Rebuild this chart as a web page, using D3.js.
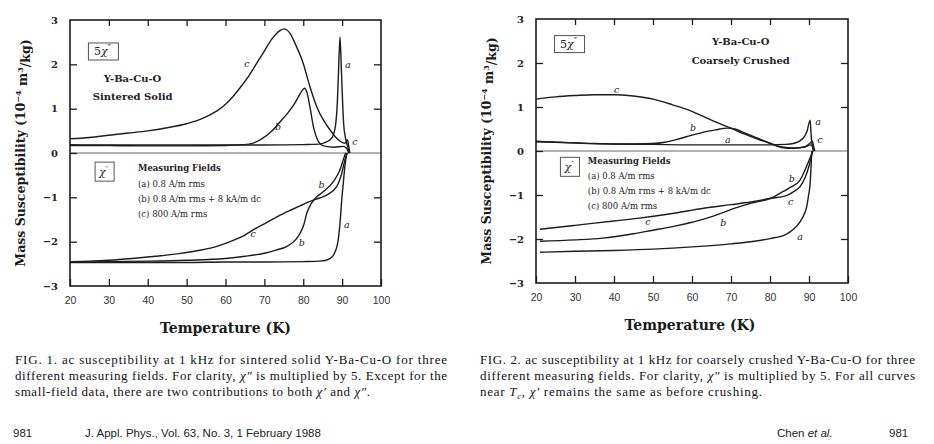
<!DOCTYPE html>
<html>
<head>
<meta charset="utf-8">
<script src="https://cdn.jsdelivr.net/npm/d3@7"></script>
<style>
body { margin: 0; background: #fff; }
</style>
</head>
<body>
<script>
const tempTicks = [20, 30, 40, 50, 60, 70, 80, 90, 100]
const suscTicks = [-3, -2, -1, 0, 1, 2, 3]

// FIG. 1, sintered solid. 5 chi'' curves
const sinteredImagA = [[20,0.19],[30,0.18],[40,0.18],[50,0.18],[60,0.18],[70,0.18],[80,0.19],[84,0.2],[86,0.25],[87.5,0.36],[88.3,0.62],[88.8,1.2],[89.1,1.9],[89.45,2.62],[89.8,1.9],[90.1,1.2],[90.4,0.65],[90.9,0.32],[91.4,0.15],[91.9,0.0]]
const sinteredImagB = [[20,0.17],[30,0.17],[40,0.16],[50,0.16],[60,0.17],[66,0.2],[69,0.3],[72,0.5],[74,0.7],[76,0.9],[78,1.15],[79.5,1.38],[80.3,1.46],[81,1.35],[81.7,1.05],[82.6,0.6],[83.9,0.26],[85.2,0.16],[88,0.13],[90.3,0.15],[91.2,0.1],[91.7,0.0]]
const sinteredImagC = [[20,0.32],[25,0.35],[30,0.4],[35,0.45],[40,0.5],[45,0.57],[50,0.66],[53,0.74],[56,0.86],[58,0.96],[60,1.1],[62,1.28],[64,1.5],[66,1.74],[68,2.02],[70,2.3],[72,2.58],[74,2.76],[75,2.8],[76.6,2.7],[78,2.45],[80,2.02],[81.7,1.5],[83.5,1.04],[85.2,0.74],[86.9,0.52],[88.6,0.33],[90.7,0.22],[91.4,0.3],[91.7,0.15],[92,0.0]]
// chi'
const sinteredRealA = [[20,-2.47],[30,-2.47],[40,-2.47],[50,-2.47],[60,-2.46],[70,-2.46],[80,-2.45],[84.3,-2.44],[86.9,-2.38],[88.2,-2.23],[89,-1.96],[89.45,-1.59],[89.9,-1.06],[90.3,-0.68],[90.7,-0.31],[91.2,0.0]]
const sinteredRealB = [[20,-2.46],[30,-2.45],[40,-2.44],[50,-2.42],[60,-2.38],[65,-2.33],[70,-2.26],[73,-2.19],[75.7,-2.11],[78,-1.96],[79.2,-1.81],[80.2,-1.6],[80.9,-1.36],[82,-1.15],[83,-1.03],[85.2,-0.87],[87.7,-0.65],[89.45,-0.38],[90.3,-0.15],[90.9,0.0]]
const sinteredRealC = [[20,-2.45],[25,-2.44],[30,-2.42],[36,-2.38],[42,-2.33],[48,-2.27],[53,-2.2],[58,-2.1],[62,-1.97],[65,-1.85],[67,-1.74],[70,-1.6],[73,-1.45],[75,-1.36],[77,-1.28],[79,-1.2],[81,-1.12],[83,-1.05],[86,-0.95],[88.6,-0.76],[89.9,-0.46],[90.7,-0.16],[91.3,0.0]]

// FIG. 2, coarsely crushed. 5 chi'' curves
const crushedImagA = [[20,0.22],[25,0.2],[30,0.18],[40,0.16],[50,0.15],[60,0.14],[70,0.14],[80,0.14],[84,0.15],[86,0.17],[88.5,0.29],[89.5,0.45],[90.3,0.7],[90.6,0.3],[91,0.05],[91.2,0.0]]
const crushedImagB = [[20,0.21],[25,0.2],[30,0.19],[35,0.17],[40,0.16],[45,0.16],[50,0.17],[53,0.2],[56,0.26],[60,0.36],[63,0.43],[66,0.48],[69,0.52],[71,0.5],[73,0.43],[76,0.32],[80,0.18],[83,0.09],[86,0.07],[89,0.09],[90.5,0.14],[91.2,0.05],[91.5,0.0]]
const crushedImagC = [[20,1.18],[25,1.23],[30,1.26],[35,1.28],[40,1.28],[45,1.25],[50,1.18],[55,1.05],[60,0.9],[63,0.78],[66,0.66],[70,0.52],[73,0.4],[76,0.3],[80,0.17],[83,0.08],[86,0.06],[89,0.1],[90.3,0.18],[90.9,0.22],[91.2,0.1],[91.5,0.0]]
// chi'
const crushedRealA = [[21,-2.3],[30,-2.28],[40,-2.26],[50,-2.23],[60,-2.18],[70,-2.11],[76,-2.05],[80,-1.99],[84,-1.9],[86,-1.78],[87.7,-1.61],[88.7,-1.45],[89.4,-1.27],[89.9,-1.0],[90.3,-0.73],[90.5,-0.4],[90.7,-0.05],[90.8,0.0]]
const crushedRealB = [[21,-2.05],[30,-2.02],[37,-1.98],[45,-1.88],[50,-1.8],[55,-1.72],[60,-1.62],[63,-1.55],[67,-1.43],[71,-1.3],[75,-1.19],[80,-1.08],[83.4,-0.92],[85,-0.84],[87.7,-0.66],[89.7,-0.28],[91,0.0]]
const crushedRealC = [[21,-1.78],[30,-1.69],[40,-1.59],[46,-1.53],[55,-1.42],[63,-1.3],[70,-1.22],[75,-1.16],[80,-1.08],[84,-1.02],[86,-0.93],[87.7,-0.81],[89,-0.6],[89.7,-0.43],[90.4,-0.2],[90.9,0.0]]

// curve letters [T, value, letter]
const sinteredLetters = [[65.5,2.02,'c'],[91.5,1.99,'a'],[73.5,0.59,'b'],[93.3,0.25,'c'],[84.7,-0.72,'b'],[67.1,-1.81,'c'],[79.6,-2.03,'b'],[91.2,-1.62,'a']]
const crushedLetters = [[40.7,1.4,'c'],[60.3,0.52,'b'],[69.2,0.25,'a'],[92.3,0.66,'a'],[92.8,0.25,'c'],[85.6,-0.62,'b'],[85.3,-1.15,'c'],[48.7,-1.61,'c'],[68,-1.64,'b'],[87.7,-1.95,'a']]

const fieldLines = ['(a) 0.8 A/m rms', '(b) 0.8 A/m rms + 8 kA/m dc', '(c) 800 A/m rms']
const sinteredTitle = ['Y-Ba-Cu-O', 'Sintered Solid']
const crushedTitle = ['Y-Ba-Cu-O', 'Coarsely Crushed']

const serif = 'DejaVu Serif, serif'
const ink = '#1c1c1c'

const svg = d3.select('body').append('svg')
    .attr('width', 934)
    .attr('height', 444)

svg.append('rect').attr('width', 934).attr('height', 444).attr('fill', 'white')

function drawPanel(p) {
    const x = d3.scaleLinear().domain([20, 100]).range([p.left, p.right])
    const y = d3.scaleLinear().domain([-3, 3]).range([p.bottom, p.top])
    const g = svg.append('g')

    // zero line
    g.append('line')
        .attr('x1', x(20)).attr('x2', x(100))
        .attr('y1', y(0)).attr('y2', y(0))
        .attr('stroke', '#666').attr('stroke-width', 1)

    const inner = tempTicks.slice(1, -1)
    const innerY = [-2, -1, 1, 2]

    const bottom = g.append('g')
        .attr('transform', 'translate(0,' + y(-3) + ')')
        .call(d3.axisBottom(x).tickValues(tempTicks).tickSize(-7).tickSizeOuter(0).tickPadding(11).tickFormat(d3.format('d')))
    g.append('g')
        .attr('transform', 'translate(0,' + y(3) + ')')
        .call(d3.axisTop(x).tickValues(inner).tickSize(-6).tickSizeOuter(0).tickFormat(''))
    const left = g.append('g')
        .attr('transform', 'translate(' + x(20) + ',0)')
        .call(d3.axisLeft(y).tickValues(suscTicks).tickSize(-7).tickSizeOuter(0).tickPadding(12).tickFormat(d3.format('d')))
    g.append('g')
        .attr('transform', 'translate(' + x(100) + ',0)')
        .call(d3.axisRight(y).tickValues(innerY).tickSize(-7).tickSizeOuter(0).tickFormat(''))

    g.selectAll('.domain').remove()
    g.selectAll('.tick line').attr('stroke', ink).attr('stroke-width', 1.3)
    bottom.selectAll('text').attr('font-family', 'Liberation Sans, sans-serif').attr('font-size', 10.5).attr('fill', '#333')
    left.selectAll('text').attr('font-family', serif).attr('font-weight', 'bold').attr('font-size', 10).attr('fill', '#222')
    left.selectAll('.tick').filter(d => d === -3 || d === 3).select('line').remove()

    // frame
    g.append('rect')
        .attr('x', x(20)).attr('y', y(3))
        .attr('width', x(100) - x(20)).attr('height', y(-3) - y(3))
        .attr('fill', 'none').attr('stroke', ink).attr('stroke-width', 1.6)

    const line = d3.line()
        .x(d => x(d[0]))
        .y(d => y(d[1]))
        .curve(d3.curveMonotoneX)

    g.append('g').selectAll('path')
        .data(p.curves)
        .join('path')
        .attr('d', line)
        .attr('fill', 'none')
        .attr('stroke', ink)
        .attr('stroke-width', 1.4)

    g.append('g').selectAll('text')
        .data(p.letters)
        .join('text')
        .attr('x', d => x(d[0]))
        .attr('y', d => y(d[1]))
        .attr('dy', '0.35em')
        .attr('text-anchor', 'middle')
        .attr('font-family', serif)
        .attr('font-style', 'italic')
        .attr('font-size', 9.5)
        .attr('fill', '#222')
        .text(d => d[2])

    // boxed labels
    function boxed(t, v, w, h, build) {
        g.append('rect')
            .attr('x', x(t) - w / 2).attr('y', y(v) - h / 2)
            .attr('width', w).attr('height', h)
            .attr('fill', 'none').attr('stroke', '#555').attr('stroke-width', 1)
        const tx = g.append('text')
            .attr('x', x(t) - 1).attr('y', y(v) + 4)
            .attr('text-anchor', 'middle')
            .attr('font-family', serif)
            .attr('font-size', 11)
            .attr('fill', '#222')
        build(tx)
    }
    boxed(p.boxImag[0], p.boxImag[1], 30, 17, tx => {
        tx.append('tspan').text('5')
        tx.append('tspan').attr('font-style', 'italic').text('χ')
        tx.append('tspan').attr('font-size', 9).attr('dy', -4).text('″')
    })
    boxed(p.boxReal[0], p.boxReal[1], 19, 19, tx => {
        tx.append('tspan').attr('font-style', 'italic').text('χ')
        tx.append('tspan').attr('font-size', 10).attr('dy', -3).text('′')
    })

    // sample title
    g.append('g').selectAll('text')
        .data(p.title)
        .join('text')
        .attr('x', x(p.titleAt[0]))
        .attr('y', (d, i) => y(p.titleAt[1]) + i * 18.5)
        .attr('dy', '0.35em')
        .attr('text-anchor', 'middle')
        .attr('font-family', serif)
        .attr('font-weight', 'bold')
        .attr('font-size', 10)
        .attr('fill', '#222')
        .text(d => d)

    // measuring fields
    g.append('text')
        .attr('x', x(p.fieldsAt[0])).attr('y', y(p.fieldsAt[1]))
        .attr('dy', '0.35em')
        .attr('font-family', serif).attr('font-weight', 'bold').attr('font-size', 8.5)
        .attr('fill', '#222')
        .text('Measuring Fields')
    g.append('g').selectAll('text')
        .data(fieldLines)
        .join('text')
        .attr('x', x(p.fieldsAt[0]))
        .attr('y', (d, i) => y(p.fieldsAt[1]) + (i + 1) * p.fieldStep)
        .attr('dy', '0.35em')
        .attr('font-family', serif).attr('font-size', 8.5)
        .attr('fill', '#222')
        .text(d => d)

    // axis titles
    g.append('text')
        .attr('x', (x(20) + x(100)) / 2 + p.xTitleShift)
        .attr('y', y(-3) + 47)
        .attr('text-anchor', 'middle')
        .attr('font-family', serif).attr('font-weight', 'bold').attr('font-size', 14)
        .attr('fill', '#1a1a1a')
        .text('Temperature (K)')

    const yt = g.append('text')
        .attr('transform', 'translate(' + (x(20) - 45) + ',' + y(0) + ') rotate(-90)')
        .attr('text-anchor', 'middle')
        .attr('font-family', serif).attr('font-weight', 'bold').attr('font-size', 12.5)
        .attr('fill', '#1a1a1a')
    yt.append('tspan').text('Mass Susceptibility (10')
    yt.append('tspan').attr('font-size', 8).attr('dy', '-0.55em').text('−4')
    yt.append('tspan').attr('dy', '0.55em').text(' m')
    yt.append('tspan').attr('font-size', 8).attr('dy', '-0.55em').text('3')
    yt.append('tspan').attr('dy', '0.55em').text('/kg)')
}

drawPanel({
    left: 70, right: 381, top: 20, bottom: 286,
    curves: [sinteredImagA, sinteredImagB, sinteredImagC, sinteredRealA, sinteredRealB, sinteredRealC],
    letters: sinteredLetters,
    boxImag: [28.6, 2.29], boxReal: [28.9, -0.42],
    title: sinteredTitle, titleAt: [36.1, 1.69],
    fieldsAt: [37.5, -0.35], fieldStep: 15.2,
    xTitleShift: 0
})

drawPanel({
    left: 536, right: 848, top: 19, bottom: 283,
    curves: [crushedImagA, crushedImagB, crushedImagC, crushedRealA, crushedRealB, crushedRealC],
    letters: crushedLetters,
    boxImag: [28.6, 2.43], boxReal: [28.7, -0.36],
    title: crushedTitle, titleAt: [72.5, 2.48],
    fieldsAt: [33.3, -0.22], fieldStep: 15,
    xTitleShift: -2
})

// captions, each line stretched to the width it has in the print
function caption(x0, widths, lines) {
    lines.forEach((parts, i) => {
        const t = svg.append('text')
            .attr('x', x0)
            .attr('y', 364 + i * 16)
            .attr('font-family', 'Liberation Serif, serif')
            .attr('font-size', 13)
            .attr('fill', '#111')
            .attr('textLength', widths[i])
            .attr('lengthAdjust', 'spacing')
        parts.forEach(s => {
            const sp = t.append('tspan').text(s.t)
            if (s.i) sp.attr('font-style', 'italic')
            if (s.sub) sp.attr('font-size', 8.5).attr('dy', 3)
            if (s.up) sp.attr('dy', -3)
        })
    })
}

caption(15, [432, 432, 355], [
    [{t: 'FIG. 1. ac susceptibility at 1 kHz for sintered solid Y-Ba-Cu-O for three'}],
    [{t: 'different measuring fields. For clarity, '}, {t: 'χ″', i: true}, {t: ' is multiplied by 5. Except for the'}],
    [{t: 'small-field data, there are two contributions to both '}, {t: 'χ′', i: true}, {t: ' and '}, {t: 'χ″', i: true}, {t: '.'}]
])

caption(480, [435, 435, 282], [
    [{t: 'FIG. 2. ac susceptibility at 1 kHz for coarsely crushed Y-Ba-Cu-O for three'}],
    [{t: 'different measuring fields. For clarity, '}, {t: 'χ″', i: true}, {t: ' is multiplied by 5. For all curves'}],
    [{t: 'near '}, {t: 'T', i: true}, {t: 'c', i: true, sub: true}, {t: ', ', up: true}, {t: 'χ′', i: true}, {t: ' remains the same as before crushing.'}]
])

// footer
const footer = svg.append('g')
    .attr('font-family', 'Liberation Sans, sans-serif')
    .attr('font-size', 11.5)
    .attr('fill', '#222')
footer.append('text').attr('x', 13).attr('y', 437).text('981')
footer.append('text').attr('x', 85).attr('y', 437).text('J. Appl. Phys., Vol. 63, No. 3, 1 February 1988')
const chen = footer.append('text').attr('x', 777).attr('y', 437)
chen.append('tspan').text('Chen ')
chen.append('tspan').attr('font-style', 'italic').text('et al.')
footer.append('text').attr('x', 889).attr('y', 437).text('981')
</script>
</body>
</html>
